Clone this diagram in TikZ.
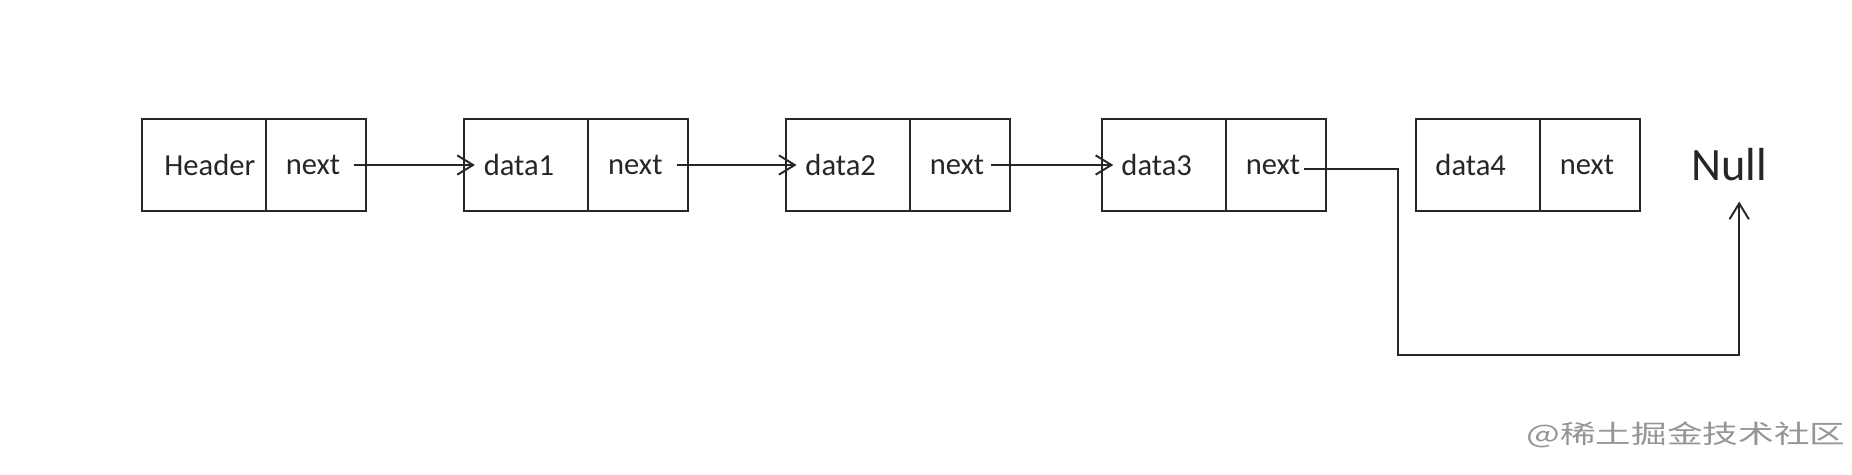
\documentclass[tikz,border=0pt]{standalone}
\usepackage{fontspec}
\setmainfont{Carlito}
\newfontfamily\cjkfont{Noto Sans CJK SC}
\usetikzlibrary{arrows.meta,positioning}
\definecolor{ink}{HTML}{262626}
\definecolor{wmark}{HTML}{959595}

\tikzset{
  cell/.style={draw=ink,line width=1.1pt,minimum height=1.84cm,inner sep=0pt,outer sep=0pt,
    text=ink,font=\fontsize{17.4pt}{21pt}\selectfont},
  headcell/.style={cell,minimum width=2.48cm},
  datacell/.style={cell,minimum width=2.48cm,execute at end node={\hspace*{8pt}}},
  ptrcell/.style={cell,minimum width=2cm,execute at end node={\hspace*{3pt}}},
  link/.style={->,draw=ink,line width=1.1pt}
}

\begin{document}
\begin{tikzpicture}[x=0.02cm,y=0.02cm,>={Straight Barb[length=9pt,width=11pt]}]
\useasboundingbox (0,0) rectangle (1852,474);
% list nodes
\node[headcell,anchor=west] (hdr) at (141.7,309) {\hspace*{7pt}Header};
\node[ptrcell,right=0pt of hdr] (hnxt) {next};
\node[datacell,anchor=west] (d1) at (464,309) {data1};
\node[ptrcell,right=0pt of d1] (n1) {next};
\node[datacell,anchor=west] (d2) at (785.7,309) {data2};
\node[ptrcell,right=0pt of d2] (n2) {next};
\node[datacell,anchor=west] (d3) at (1101.7,309) {data3};
\node[ptrcell,right=0pt of d3] (n3) {next};
\node[datacell,anchor=west] (d4) at (1415.7,309) {data4};
\node[ptrcell,right=0pt of d4] (n4) {next};
\node[text=ink,font=\fontsize{26.4pt}{32pt}\selectfont] (null) at (1729,309) {Null};
% pointers
\draw[link] ([xshift=-6.8pt]hnxt.east) -- ([xshift=6.2pt]d1.west);
\draw[link] ([xshift=-6pt]n1.east) -- ([xshift=6.2pt]d2.west);
\draw[link] ([xshift=-10.4pt]n2.east) -- ([xshift=6.6pt]d3.west);
\draw[link] ([xshift=-12.3pt,yshift=-2.3pt]n3.east) -- ++(94,0) -- ++(0,-186)
  -| ([xshift=5.8pt,yshift=-8pt]null.south);
% watermark
\node[text=wmark,font=\cjkfont\fontsize{14.5pt}{17pt}\selectfont] (wm) at (1686,39)
  {\scalebox{1.4}[1]{@稀土掘金技术社区}};
\end{tikzpicture}
\end{document}
